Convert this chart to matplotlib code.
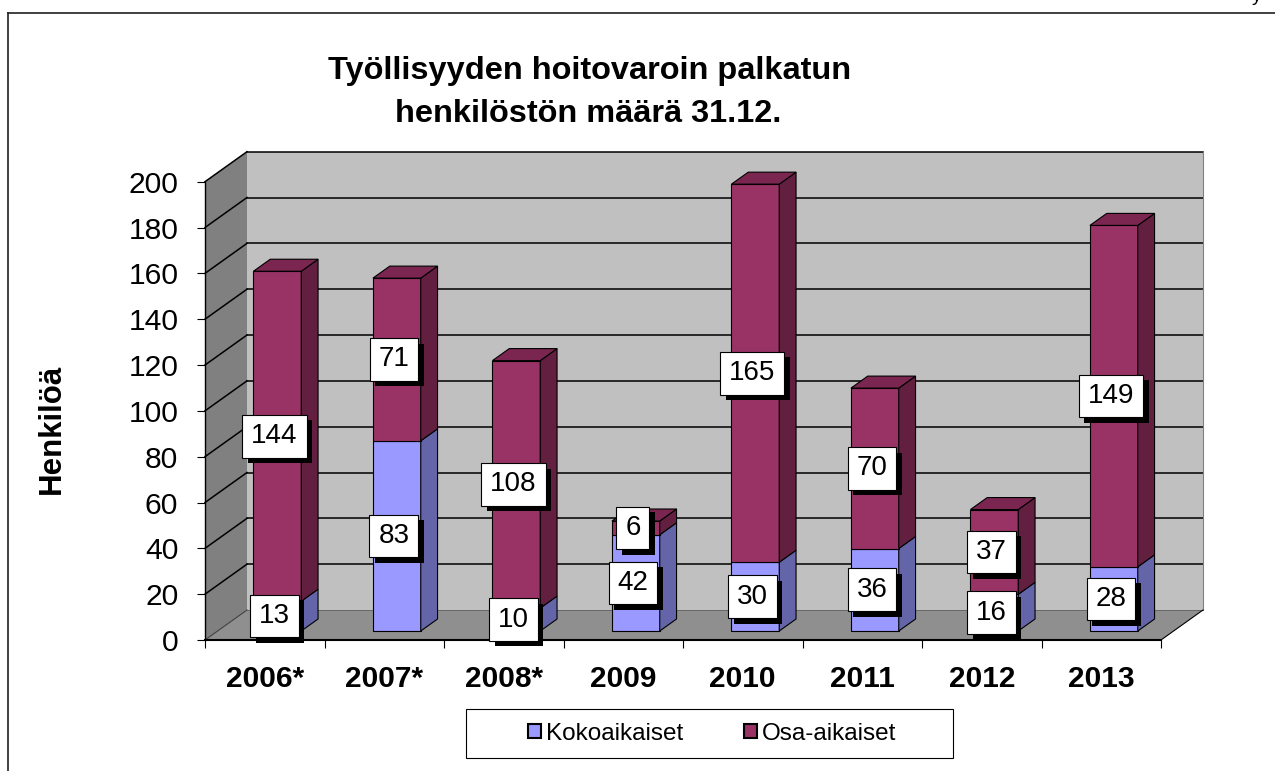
import matplotlib
matplotlib.use('Agg')
import matplotlib.pyplot as plt
from matplotlib.patches import Polygon, Rectangle
from matplotlib.lines import Line2D
from matplotlib.path import Path
import matplotlib.patheffects as pe
from matplotlib import font_manager as fm

# ---------------- data ----------------
categories = ['2006*', '2007*', '2008*', '2009', '2010', '2011', '2012', '2013']
kokoaikaiset = [13, 83, 10, 42, 30, 36, 16, 28]
osa_aikaiset = [144, 71, 108, 6, 165, 70, 37, 149]
series_names = ['Kokoaikaiset', 'Osa-aikaiset']
y_ticks = list(range(0, 201, 20))
title_lines = ['Työllisyyden hoitovaroin palkatun', 'henkilöstön määrä 31.12.']
y_label = 'Henkilöä'

# ---------------- style ----------------
plt.rcParams['font.family'] = ['Liberation Sans', 'DejaVu Sans']

W, H, DPI = 1275, 771, 100
PT = 72.0 / DPI          # points per pixel
fig = plt.figure(figsize=(W / DPI, H / DPI), dpi=DPI)
fig.patch.set_facecolor('white')


def fx(px):
    return px / W


def fy(py):
    return 1 - py / H


def has_font(name):
    try:
        fm.findfont(fm.FontProperties(family=name), fallback_to_default=False)
        return True
    except Exception:
        return False


KOKO_FRONT, KOKO_SIDE = '#9999ff', '#6464a8'
OSA_FRONT, OSA_SIDE, OSA_TOP = '#993366', '#621f40', '#7b2651'
BACK_WALL, SIDE_WALL, FLOOR = '#c0c0c0', '#808080', '#8f8f8f'

# front plane of the axes (pixels)
ax_left, ax_right, ax_top, ax_bottom = 205, 1161, 181.7, 640
ax = fig.add_axes([fx(ax_left), fy(ax_bottom), (ax_right - ax_left) / W,
                   (ax_bottom - ax_top) / H])
n = len(categories)
ymax = y_ticks[-1]
ax.set_xlim(0, n)
ax.set_ylim(0, ymax)
ax.patch.set_visible(False)

cat_px = (ax_right - ax_left) / n
val_px = (ax_bottom - ax_top) / ymax
WDX = 42 / cat_px          # wall depth in category units
WDY = 30 / val_px          # wall depth in value units
F_FRONT, F_BACK = 0.3, 0.7
bar_w = 0.4

# walls and floor
ax.add_patch(Polygon([(WDX, WDY), (n + WDX, WDY), (n + WDX, ymax + WDY), (WDX, ymax + WDY)],
                     closed=True, fc=BACK_WALL, ec='none', clip_on=False, zorder=0.5))
ax.add_patch(Polygon([(0, 0), (WDX, WDY), (WDX, ymax + WDY), (0, ymax)],
                     closed=True, fc=SIDE_WALL, ec='none', clip_on=False, zorder=0.5))
ax.add_patch(Polygon([(0, 0), (n, 0), (n + WDX, WDY), (WDX, WDY)],
                     closed=True, fc=FLOOR, ec='none', clip_on=False, zorder=0.5))

for v in y_ticks:
    if v > 0:
        ax.add_line(Line2D([WDX, n + WDX], [v + WDY, v + WDY], color='black', lw=1.1,
                           clip_on=False, zorder=0.8))
    ax.add_line(Line2D([0, WDX], [v, v + WDY], color='black' if v > 0 else '#404040',
                       lw=1.1 if v > 0 else 0.8, clip_on=False, zorder=0.8))
ax.add_line(Line2D([n + WDX, n + WDX], [WDY, ymax + WDY], color='#808080', lw=0.8,
                   clip_on=False, zorder=0.8))
ax.add_line(Line2D([WDX, n + WDX], [WDY, WDY], color='#606060', lw=0.6,
                   clip_on=False, zorder=0.8))
ax.add_line(Line2D([n, n + WDX], [0, WDY], color='black', lw=0.8,
                   clip_on=False, zorder=0.8))

# bars
ddx = (F_BACK - F_FRONT) * WDX
ddy = (F_BACK - F_FRONT) * WDY
base = F_FRONT * WDY


def label_box(x0, y0, width, height, mutation_size):
    px = 0.32 * mutation_size
    py = 0.30 * mutation_size
    xa, ya = x0 - px, y0 - py
    xb, yb = x0 + width + px, y0 + height + py
    return Path([(xa, ya), (xb, ya), (xb, yb), (xa, yb), (xa, ya)], closed=True)


labels_to_draw = []
for i in range(n):
    xc = i + 0.5 + F_FRONT * WDX
    xl, xr = xc - bar_w / 2, xc + bar_w / 2
    bottom = base
    segs = [(kokoaikaiset[i], KOKO_FRONT, KOKO_SIDE), (osa_aikaiset[i], OSA_FRONT, OSA_SIDE)]
    for val, cf, cs in segs:
        ax.bar(xc, val, bottom=bottom, width=bar_w, color=cf, edgecolor='black',
               linewidth=0.8, zorder=3, clip_on=False)
        top = bottom + val
        ax.add_patch(Polygon([(xr, bottom), (xr + ddx, bottom + ddy), (xr + ddx, top + ddy), (xr, top)],
                             closed=True, fc=cs, ec='black', lw=0.8, zorder=3, clip_on=False))
        labels_to_draw.append((xc - 0.025, bottom + val / 2, str(val)))
        bottom = top
    ax.add_patch(Polygon([(xl, bottom), (xr, bottom), (xr + ddx, bottom + ddy), (xl + ddx, bottom + ddy)],
                         closed=True, fc=OSA_TOP, ec='black', lw=0.8, zorder=3, clip_on=False))

for x, y, s in labels_to_draw:
    t = ax.text(x, y, s, ha='center', va='center', fontsize=20, zorder=6,
                bbox=dict(boxstyle=label_box, fc='white', ec='black', lw=0.8))
    t.get_bbox_patch().set_path_effects([
        pe.SimplePatchShadow(offset=(4, -4), shadow_rgbFace='black', alpha=1.0),
        pe.Normal()])

# axes, ticks
for s in ['top', 'right']:
    ax.spines[s].set_visible(False)
ax.spines['left'].set_linewidth(1.0)
ax.spines['bottom'].set_linewidth(1.5)
ax.spines['left'].set_zorder(2.5)
ax.spines['bottom'].set_zorder(2.5)

ax.set_yticks(y_ticks)
ax.set_yticklabels([str(v) for v in y_ticks])
ax.tick_params(axis='y', direction='out', length=8 * PT, width=0.8, pad=13.5,
               labelsize=21.6, colors='black')
ax.set_xticks(range(n + 1))
ax.set_xticklabels([''] * (n + 1))
ax.tick_params(axis='x', which='major', direction='out', length=8 * PT, width=0.8)
ax.set_xticks([i + 0.5 for i in range(n)], minor=True)
ax.set_xticklabels(categories, minor=True, fontweight='bold', fontsize=21.5)
ax.tick_params(axis='x', which='minor', length=0, pad=18)

# title
if has_font('Liberation Sans Narrow'):
    tfam, tsize = ['Liberation Sans Narrow', 'Liberation Sans', 'DejaVu Sans'], 37 * PT
else:
    tfam, tsize = ['Liberation Sans', 'DejaVu Sans'], 32.5 * PT
fig.text(fx(590), fy(79.5), title_lines[0], ha='center', va='baseline',
         fontsize=tsize, fontweight='bold', family=tfam)
fig.text(fx(588), fy(122), title_lines[1], ha='center', va='baseline',
         fontsize=tsize, fontweight='bold', family=tfam)

# y label
fig.text(fx(51.7), fy(429), y_label, rotation=90, ha='center', va='center',
         fontsize=22.5, fontweight='bold')

# legend
fig.add_artist(Rectangle((fx(466), fy(758)), (953 - 466) / W, (758 - 709) / H,
                         transform=fig.transFigure, fc='white', ec='black', lw=0.8, zorder=1))
handles = [Rectangle((0, 0), 1, 1, fc=KOKO_FRONT, ec='black', lw=1.5),
           Rectangle((0, 0), 1, 1, fc=OSA_FRONT, ec='black', lw=1.5)]
leg = fig.legend(handles, series_names, loc='center', bbox_to_anchor=(fx(712), fy(733.5)),
                 ncol=2, frameon=False, fontsize=17.5, handlelength=0.55, handleheight=0.55,
                 handletextpad=0.2, columnspacing=2.5, borderpad=0, borderaxespad=0)
leg.set_zorder(2)

# chart frame
fig.add_artist(Line2D([fx(8), 1], [fy(12.5), fy(12.5)], transform=fig.transFigure,
                      color='#202020', lw=1.2))
fig.add_artist(Line2D([fx(8), fx(8)], [fy(12.5), 0], transform=fig.transFigure,
                      color='#202020', lw=1.2))
fig.text(fx(1252), fy(1), 'y', ha='left', va='baseline', fontsize=14)

fig.savefig('out.png', dpi=DPI)
